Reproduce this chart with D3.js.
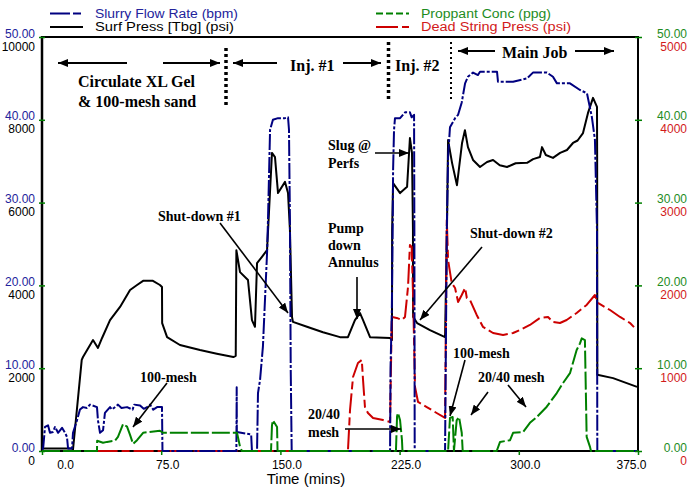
<!DOCTYPE html>
<html><head><meta charset="utf-8">
<script src="https://cdn.jsdelivr.net/npm/d3@7"></script>
<style>html,body{margin:0;padding:0;background:#fff;}svg{display:block;}</style>
</head><body>
<svg id="chart" width="688" height="488"></svg>
<script>
// ---------------- DATA ----------------
const xTicks = [0, 75, 150, 225, 300, 375];
const rateTicks = [0, 10, 20, 30, 40, 50];           // Slurry Flow Rate (bpm), left
const surfTicks = [0, 2000, 4000, 6000, 8000, 10000]; // Surf Press (psi), left
const ppgTicks = [0, 10, 20, 30, 40, 50];            // Proppant Conc (ppg), right
const deadTicks = [0, 1000, 2000, 3000, 4000, 5000]; // Dead String Press (psi), right

const surfTime = [0,18.9,19.5,25,25.8,32.1,35.2,37.8,42.8,49.1,55.4,59.8,63.6,69.8,74.2,75.5,75.6,78.7,86.8,99.4,110,120.4,121.9,122.3,124.6,129.6,132.1,134,135.3,138.4,141.6,144.7,146.6,148.5,152.9,154.8,156,157.3,157.9,166.7,176.8,187.5,192.5,196.9,200.1,202,206.4,219,220.2,220.3,220.9,225.3,229.7,231.5,232.8,233.4,233.5,236,244.1,253.6,254.8,255.5,258,261.1,264.3,266.1,268,271.2,275.6,280,283.8,288,292.6,298,305.2,309,313.3,314.6,317,321.5,326,330.3,334.1,337,340.4,343.5,346.7,349.2,349.3,349.4,359.3,374.4];
const surfPsi = [60,60,30,2200,2270,2680,2490,2730,3160,3480,3890,4010,4110,4110,4010,3960,3090,2750,2560,2440,2350,2270,2300,4850,4320,4130,3160,3000,4540,4690,4850,7200,7100,6230,6500,6230,5340,3240,3120,3000,2870,2750,2750,3160,3330,3160,2750,2730,2680,5340,6470,6230,6380,7560,7200,5340,3240,3090,2920,2750,5340,7510,6960,6420,7440,7750,7340,7030,6860,6980,7030,6900,6860,6950,6960,7050,7100,7340,7150,7080,7200,7270,7440,7500,7680,8160,8530,8310,7030,1840,1760,1550];

const flowTime = [0,0.8,1.9,3.8,5,6.9,8.2,10.1,12.6,14.5,15.7,16.4,18.9,19.5,22,23.9,25.8,28.3,30.2,34.6,35.2,36.5,38.4,39.6,42.8,44,47.8,50,53.5,57,58,61.7,64,66.1,68,70,72.4,75.5,75.8,122.3,122.5,122.6,131.6,132.1,135.3,135.9,137.2,139,141.6,142.2,143.5,145.3,148.5,152.9,154.8,155.4,156,156.5,157.1,219,219.3,220.1,220.7,220.9,221.5,222.1,225.3,228.4,231.5,232.6,234.1,234.3,234.5,253.6,254.7,255.5,256.7,259.9,261.8,264.1,266.2,268,271.2,274.3,275.6,286.3,286.9,296.4,305.2,308.9,317.7,321.5,324,332.2,338.5,342.9,346,347.9,349.2,349.4,375];
const flowRate = [0,0.5,2.9,3.1,2.2,2.3,2.9,2.2,2.8,2.2,1.7,0.3,0.3,2.2,3.7,5.0,5.3,5.2,5.6,5.3,3.7,2.2,2.5,4.6,5.3,5.0,5.6,5.2,5.3,5.0,5.6,5.5,5.1,5.3,5.6,5.0,5.3,5.3,0,0,7.7,2.3,2.0,0,0,7.0,8.6,12.6,23.9,27.9,38.8,40.0,40.2,40.2,40.3,38.8,27.9,9.8,0,0,10.1,16.7,27.9,33.9,38.8,40.2,40.2,40.9,40.9,40.3,40.6,26.7,0,0,26.7,35.5,39.1,40.2,40.6,42.1,44.4,45.2,45.7,45.4,45.8,45.8,44.6,44.6,45.0,45.7,45.7,45.2,44.4,44.4,43.6,43.2,40.3,37.6,26.7,0,0];

const proppantTime = [0,34.6,34.7,38.4,40.9,45.9,47.8,51,53.5,55.4,57.3,59.8,63.6,74.2,76.1,122.7,124.6,125.8,144.1,144.7,145.3,147.9,148.2,222.7,223.4,224,225.3,226.5,226.8,255.5,256.7,258.4,259.2,260.9,262.4,264.1,264.7,286.1,288.2,294.5,296.4,302.7,307,311.3,317.6,323.9,327.8,332.2,336.4,338.5,339.6,341.6,342.7,344.8,345.4,375];
const proppantConc = [0,0,1.24,1.0,1.1,1.24,1.7,3.26,2.95,1.95,0.85,1.3,2.2,2.45,2.2,2.2,0.5,0,0,3.1,3.7,2.9,0,0,4.2,4.6,3.7,1.3,0,0,4.0,4.1,0,3.7,4.1,2.2,0,0,1.1,1.3,2.2,2.3,3.4,4.1,5.35,7.0,8.2,9.4,12.2,13.0,13.6,13.4,1.7,0.5,0,0];

const deadTime = [35,192.5,193.8,195.7,198.8,201.2,202,203.2,205.1,208.3,214.6,219,220.1,223.2,226.3,228.4,230.3,231.5,232.6,233.6,234.7,236.6,242.1,248.3,253.6,254.7,255.5,257.8,259.9,261.8,264.1,266.2,267.3,269.3,273.5,277.5,283.8,290.1,296.4,300.8,307,313.3,318.4,321.5,325.9,330.1,336.4,342.7,347.9,349.8,357.4,363.7,370,374.2];
const deadPsi = [0,0,495,894,1063,1099,857,531,459,399,374,350,1619,1607,1582,1619,1981,2488,2464,1788,773,592,531,459,399,2790,2307,2029,1969,1800,1884,1969,1848,1824,1643,1498,1425,1401,1425,1462,1522,1607,1619,1558,1546,1582,1667,1764,1884,1788,1703,1619,1546,1462];

// ---------------- LAYOUT ----------------
const L = 42, R = 638, T = 37, B = 451;
const navy = "#000080", blueTxt = "#23239c", green = "#008000", greenTxt = "#1e8c1e", red = "#cc0000", redTxt = "#d21a1a";
const sans = "'Liberation Sans', Arial, sans-serif";
const serif = "'Liberation Serif', 'Times New Roman', serif";

const svg = d3.select("#chart");
const x = d3.scaleLinear().domain([0, 375]).range([L, R]);
const yRate = d3.scaleLinear().domain([0, 50]).range([B, T]);
const ySurf = d3.scaleLinear().domain([0, 10000]).range([B, T]);
const yPpg = d3.scaleLinear().domain([0, 50]).range([B, T]);
const yDead = d3.scaleLinear().domain([0, 5000]).range([B, T]);

svg.append("defs").append("clipPath").attr("id", "clip")
  .append("rect").attr("x", L).attr("y", T - 2).attr("width", R - L).attr("height", B - T + 3);

// frame
svg.append("line").attr("x1", L).attr("x2", R).attr("y1", T).attr("y2", T).attr("stroke", "#000").attr("stroke-width", 2);
svg.append("line").attr("x1", L).attr("x2", R).attr("y1", B).attr("y2", B).attr("stroke", "#000").attr("stroke-width", 2);
svg.append("line").attr("x1", L).attr("x2", L).attr("y1", T - 1).attr("y2", B + 1).attr("stroke", "#000").attr("stroke-width", 2.5);
svg.append("line").attr("x1", R).attr("x2", R).attr("y1", T - 1).attr("y2", B + 1).attr("stroke", "#000").attr("stroke-width", 2);

// series
const plot = svg.append("g").attr("clip-path", "url(#clip)");
function series(ts, vs, ys, color, dash, w) {
  const pts = ts.map((t, i) => [t, vs[i]]);
  plot.append("path").datum(pts)
    .attr("fill", "none").attr("stroke", color).attr("stroke-width", w)
    .attr("stroke-linejoin", "round")
    .attr("stroke-dasharray", dash)
    .attr("d", d3.line().x(d => x(d[0])).y(d => ys(d[1])));
}
series(surfTime, surfPsi, ySurf, "#000", null, 2);
series(deadTime, deadPsi, yDead, red, "20,4,8,4", 2);
series(flowTime, flowRate, yRate, navy, "16,2,3,2", 2);
series(proppantTime, proppantConc, yPpg, green, "18,3", 2);

// axes
function styleAxis(g) { g.select(".domain").remove(); g.selectAll(".tick line").attr("stroke", green).attr("stroke-width", 1.5); }
const aL1 = svg.append("g").attr("transform", `translate(${L},0)`)
  .call(d3.axisLeft(yRate).tickValues(rateTicks).tickFormat(d3.format(".2f")).tickSizeInner(3).tickSizeOuter(0).tickPadding(4));
styleAxis(aL1);
aL1.selectAll(".tick line").attr("x1", 3).attr("x2", -3);
aL1.selectAll("text").attr("fill", blueTxt).attr("dy", "0em").attr("font-family", sans).attr("font-size", 12);
const aL2 = svg.append("g").attr("transform", `translate(${L},0)`)
  .call(d3.axisLeft(ySurf).tickValues(surfTicks).tickFormat(d3.format("d")).tickSize(0).tickPadding(7));
aL2.select(".domain").remove();
aL2.selectAll("text").attr("fill", "#000").attr("dy", "1.1em").attr("font-family", sans).attr("font-size", 12);

const aR1 = svg.append("g").attr("transform", `translate(${R},0)`)
  .call(d3.axisRight(yPpg).tickValues(ppgTicks).tickFormat(d3.format(".2f")).tickSizeInner(3).tickSizeOuter(0));
styleAxis(aR1);
aR1.selectAll(".tick line").attr("x1", -3).attr("x2", 4);
aR1.selectAll("text").attr("fill", greenTxt).attr("x", 49).attr("text-anchor", "end").attr("dy", "0em").attr("font-family", sans).attr("font-size", 12);
const aR2 = svg.append("g").attr("transform", `translate(${R},0)`)
  .call(d3.axisRight(yDead).tickValues(deadTicks).tickFormat(d3.format("d")).tickSize(0));
aR2.select(".domain").remove();
aR2.selectAll("text").attr("fill", redTxt).attr("x", 49).attr("text-anchor", "end").attr("dy", "1.1em").attr("font-family", sans).attr("font-size", 12);

const aX = svg.append("g").attr("transform", `translate(0,${B})`)
  .call(d3.axisBottom(x).tickValues(xTicks).tickFormat(d3.format(".1f")).tickSizeInner(4).tickSizeOuter(0).tickPadding(5));
styleAxis(aX);
aX.selectAll("text").attr("fill", "#000").attr("font-family", sans).attr("font-size", 12)
  .attr("dx", d => d === 0 ? 23 : (d === 375 ? -7 : 6));

svg.append("text").attr("x", 306).attr("y", 484).attr("text-anchor", "middle")
  .attr("font-family", sans).attr("font-size", 15).text("Time (mins)");

// legend
function legend(x1, y, color, dash, label, tcolor, len) {
  svg.append("line").attr("x1", x1).attr("x2", x1 + 33).attr("y1", y).attr("y2", y)
    .attr("stroke", color).attr("stroke-width", 2).attr("stroke-dasharray", dash);
  svg.append("text").attr("x", x1 + 45).attr("y", y + 4.3).attr("fill", tcolor)
    .attr("font-family", sans).attr("font-size", 12)
    .attr("textLength", len).attr("lengthAdjust", "spacingAndGlyphs").text(label);
}
legend(50, 13.5, navy, "20,3,8,3", "Slurry Flow Rate (bpm)", blueTxt, 143);
legend(50, 27, "#000", null, "Surf Press [Tbg] (psi)", "#000", 139);
legend(376, 13.5, green, "7,3", "Proppant Conc (ppg)", greenTxt, 130);
legend(376, 27, red, "22,4,8,4", "Dead String Press (psi)", redTxt, 150);

// annotations
const defs = svg.select("defs");
defs.append("marker").attr("id", "ah").attr("viewBox", "0 0 10 8").attr("refX", 10).attr("refY", 4)
  .attr("markerUnits", "userSpaceOnUse").attr("markerWidth", 10).attr("markerHeight", 8).attr("orient", "auto")
  .append("path").attr("d", "M0,0L10,4L0,8Z").attr("fill", "#000");
function arrow(x1, y1, x2, y2, w) {
  svg.append("line").attr("x1", x1).attr("y1", y1).attr("x2", x2).attr("y2", y2)
    .attr("stroke", "#000").attr("stroke-width", w || 1.6).attr("marker-end", "url(#ah)");
}
function label(tx, ty, txt, size, anchor) {
  svg.append("text").attr("x", tx).attr("y", ty).attr("font-family", serif).attr("font-weight", "bold")
    .attr("font-size", size).attr("text-anchor", anchor || "start").attr("fill", "#000").text(txt);
}
function vdots(xx, y1, y2, w, dash) {
  svg.append("line").attr("x1", xx).attr("x2", xx).attr("y1", y1).attr("y2", y2)
    .attr("stroke", "#000").attr("stroke-width", w).attr("stroke-dasharray", dash);
}
// top phase markers
arrow(127, 63, 58, 63, 2); arrow(163, 63, 220, 63, 2);
label(78, 87, "Circulate XL Gel", 16); label(78, 106.5, "& 100-mesh sand", 16);
vdots(226, 48, 107, 3.5, "3,3");
arrow(277, 63, 233, 63, 2); label(290, 71, "Inj. #1", 16); arrow(343, 63, 381, 63, 2);
vdots(388.5, 42, 100, 3.5, "3,3");
label(395, 71, "Inj. #2", 16);
vdots(451, 42, 100, 2, "2,3");
arrow(495, 51, 458, 51, 2); label(502, 58, "Main Job", 16); arrow(575, 51, 614, 51, 2);

// lower annotations
label(158, 221, "Shut-down #1", 14); arrow(220, 223, 288, 313);
label(328, 150, "Slug @", 14); label(328, 168, "Perfs", 14); arrow(375, 153, 409, 153);
label(328, 233, "Pump", 14); label(328, 250, "down", 14); label(328, 267, "Annulus", 14); arrow(357, 277, 357, 319);
label(470, 238, "Shut-down #2", 14); arrow(482, 247, 420, 320);
label(140, 381.5, "100-mesh", 14); arrow(167, 383, 133, 427);
label(308, 419, "20/40", 14); label(308, 437, "mesh", 14); arrow(345, 429, 401, 429);
label(453, 358, "100-mesh", 14); arrow(465, 360, 450, 416);
label(478, 381.5, "20/40 mesh", 14); arrow(488, 392, 471, 415); arrow(508, 385, 526, 407);
</script>
</body></html>
